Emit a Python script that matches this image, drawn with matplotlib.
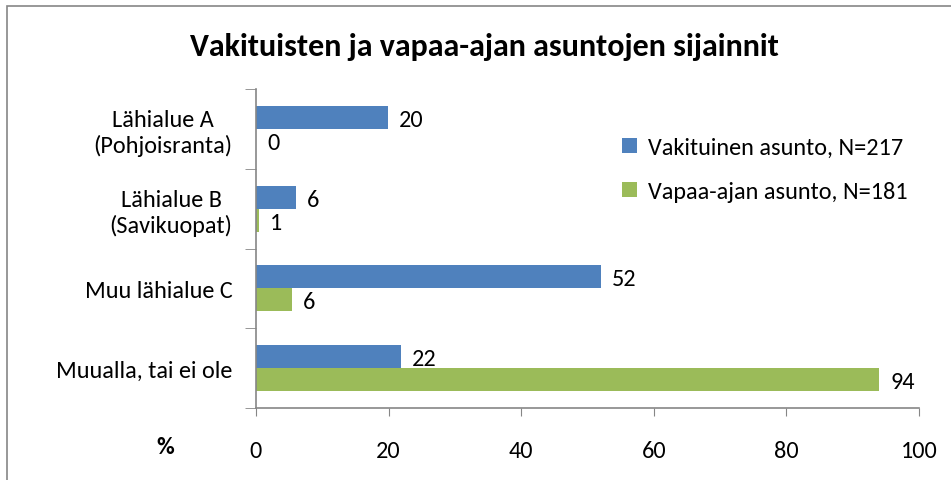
"""
Vakituisten ja vapaa-ajan asuntojen sijainnit - vaakapylväskaavio.
"""
import numpy as np
import matplotlib.pyplot as plt
from matplotlib.patches import Rectangle

plt.rcParams['font.family'] = ['Carlito', 'Lato', 'DejaVu Sans']

# Data
categories = ['Lähialue A\n(Pohjoisranta)', 'Lähialue B\n(Savikuopat)',
              'Muu lähialue C', 'Muualla, tai ei ole']
vakituinen = [19.9, 6.0, 52.0, 21.9]
vapaa_ajan = [0.0, 0.45, 5.4, 94.0]
vakituinen_labels = ['20', '6', '52', '22']
vapaa_ajan_labels = ['0', '1', '6', '94']
series_names = ['Vakituinen asunto, N=217', 'Vapaa-ajan asunto, N=181']
x_ticks = [0, 20, 40, 60, 80, 100]

BLUE = '#4F81BD'
GREEN = '#9BBB59'
GREY = '#868686'
FS = 17.5

W, H = 951, 481
fig = plt.figure(figsize=(W / 100, H / 100), dpi=100)

# Kaavion reunaviiva
fig.patches.append(Rectangle((7 / W, -0.1), 1.2, 1.1 - 7 / H,
                             transform=fig.transFigure, fill=False,
                             edgecolor=GREY, linewidth=1.2))

ax = fig.add_axes([256 / W, 1 - 409 / H, (919 - 256) / W, (409 - 90) / H])

y = np.arange(len(categories))
h = 0.288
ax.barh(y - h / 2, vakituinen, height=h, color=BLUE, label=series_names[0])
ax.barh(y + h / 2, vapaa_ajan, height=h, color=GREEN, label=series_names[1])

# Arvojen tekstit
for yi, v, lab in zip(y, vakituinen, vakituinen_labels):
    ax.annotate(lab, (v, yi - h / 2), xytext=(11, -2),
                textcoords='offset pixels', va='center', ha='left',
                fontsize=FS)
for yi, v, lab in zip(y, vapaa_ajan, vapaa_ajan_labels):
    ax.annotate(lab, (v, yi + h / 2), xytext=(11, -2),
                textcoords='offset pixels', va='center', ha='left',
                fontsize=FS)

ax.set_xlim(0, 100)
ax.set_ylim(3.5, -0.5)
ax.set_xticks(x_ticks)
ax.set_xticklabels([str(t) for t in x_ticks], fontsize=FS)
ax.set_yticks(y)
ax.set_yticklabels(categories, fontsize=FS, multialignment='center')
ax.set_yticks(np.arange(-0.5, len(categories)), minor=True)

ax.tick_params(axis='y', which='major', length=0, pad=17)
ax.tick_params(axis='y', which='minor', length=8, color=GREY, direction='out')
ax.tick_params(axis='x', length=6, color=GREY, direction='out', pad=17)

for side in ['top', 'right']:
    ax.spines[side].set_visible(False)
for side in ['left', 'bottom']:
    ax.spines[side].set_color(GREY)
    ax.spines[side].set_linewidth(1.2)

fig.text(484 / W, 1 - 47 / H, 'Vakituisten ja vapaa-ajan asuntojen sijainnit',
         ha='center', va='center', fontsize=23, fontweight='bold')
fig.text(165 / W, 1 - 448 / H, '%', ha='center', va='center',
         fontsize=FS, fontweight='bold')

ax.legend(loc='upper left', bbox_to_anchor=(622 / W, 1 - 138 / H),
          bbox_transform=fig.transFigure, frameon=False, fontsize=FS,
          handlelength=0.6, handleheight=0.6, handletextpad=0.45,
          labelspacing=0.95, borderpad=0, borderaxespad=0)

plt.savefig('out.png', dpi=100)
